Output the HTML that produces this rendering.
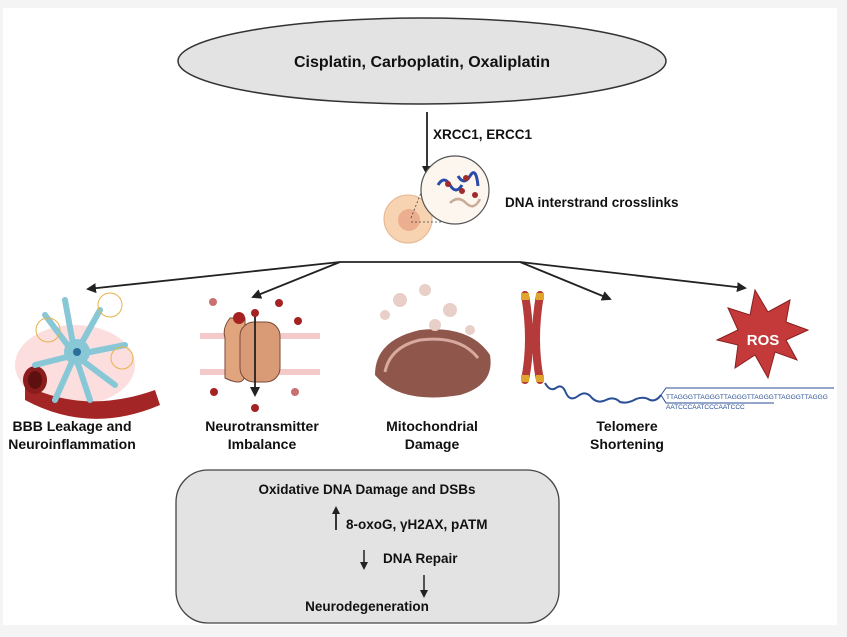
<!DOCTYPE html>
<html><head><meta charset="utf-8"><style>
html,body{margin:0;padding:0;background:#f4f4f4;}
body{width:847px;height:637px;overflow:hidden;position:relative;font-family:"Liberation Sans",Arial,sans-serif;}
svg{position:absolute;left:0;top:0}
text{font-family:"Liberation Sans",Arial,sans-serif;font-weight:bold;fill:#111}
</style></head><body>
<svg width="847" height="637" viewBox="0 0 847 637">
<defs>
<marker id="ah" markerWidth="10" markerHeight="10" refX="8" refY="5" orient="auto" markerUnits="userSpaceOnUse"><path d="M0,0 L10,5 L0,10 Z" fill="#222"/></marker>
<marker id="ahs" markerWidth="8" markerHeight="8" refX="6" refY="4" orient="auto" markerUnits="userSpaceOnUse"><path d="M0,0 L8,4 L0,8 Z" fill="#222"/></marker>
</defs>
<rect x="3" y="8" width="834" height="617" fill="#fff"/>
<ellipse cx="422" cy="61" rx="244" ry="43" fill="#e3e3e3" stroke="#333" stroke-width="1.5"/>
<text x="422" y="67" font-size="16" text-anchor="middle">Cisplatin, Carboplatin, Oxaliplatin</text>
<line x1="427" y1="112" x2="427" y2="174" stroke="#222" stroke-width="1.8" marker-end="url(#ah)"/>
<text x="433" y="139" font-size="13.5">XRCC1, ERCC1</text>
<circle cx="408" cy="219" r="24" fill="#f7d3b1" stroke="#e6b58e"/>
<circle cx="409" cy="220" r="11" fill="#ebae8e"/>
<line x1="411" y1="218" x2="430" y2="170" stroke="#444" stroke-dasharray="2,2" stroke-width="0.8"/>
<line x1="411" y1="222" x2="445" y2="222" stroke="#444" stroke-dasharray="2,2" stroke-width="0.8"/>
<circle cx="455" cy="190" r="34" fill="#fdf6ef" stroke="#555" stroke-width="1.2"/>
<path d="M438,185 q6,-10 12,0 t12,0" stroke="#2a4aa8" stroke-width="3" fill="none"/>
<path d="M458,176 q6,10 12,0 t8,10" stroke="#2a4aa8" stroke-width="3" fill="none"/>
<path d="M450,203 q8,-8 16,0 t14,-4" stroke="#c9ab98" stroke-width="2.5" fill="none"/>
<circle cx="448" cy="184" r="3" fill="#a32a2a"/><circle cx="466" cy="178" r="3" fill="#a32a2a"/><circle cx="462" cy="191" r="3" fill="#a32a2a"/><circle cx="475" cy="195" r="3" fill="#a32a2a"/>
<text x="505" y="207" font-size="13.5">DNA interstrand crosslinks</text>
<line x1="340" y1="262" x2="520" y2="262" stroke="#222" stroke-width="1.8"/>
<line x1="340" y1="262" x2="88" y2="289" stroke="#222" stroke-width="1.8" marker-end="url(#ah)"/>
<line x1="340" y1="262" x2="253" y2="297" stroke="#222" stroke-width="1.8" marker-end="url(#ah)"/>
<line x1="520" y1="262" x2="610" y2="299" stroke="#222" stroke-width="1.8" marker-end="url(#ah)"/>
<line x1="520" y1="262" x2="745" y2="288" stroke="#222" stroke-width="1.8" marker-end="url(#ah)"/>
<!-- BBB -->
<ellipse cx="75" cy="365" rx="60" ry="40" fill="#fbd0d0" opacity="0.7"/>
<path d="M25,385 q60,30 130,5 l5,15 q-70,30 -135,-5 z" fill="#a32525"/>
<ellipse cx="35" cy="380" rx="12" ry="14" fill="#8a1c1c"/>
<ellipse cx="35" cy="380" rx="7" ry="9" fill="#5e1010"/>
<path d="M75,355 l-30,-40 M75,355 l-10,-55 M75,355 l25,-45 M75,355 l50,-10 M75,355 l40,30 M75,355 l-20,45 M75,355 l15,45 M75,355 l-40,10" stroke="#88c8d6" stroke-width="6" stroke-linecap="round"/>
<circle cx="77" cy="352" r="13" fill="#88c8d6"/><circle cx="77" cy="352" r="4" fill="#2a6f9a"/>
<g stroke="#e7b34a" stroke-width="1" fill="none"><circle cx="48" cy="330" r="12"/><circle cx="110" cy="305" r="12"/><circle cx="122" cy="358" r="11"/></g>
<!-- Neurotransmitter -->
<g fill="#f3c9c9"><rect x="200" y="333" width="120" height="6"/><rect x="200" y="369" width="120" height="6"/></g>
<path d="M230,318 q-8,10 -5,20 l0,40 q20,10 20,-5 l0,-55 z" fill="#e0a57d" stroke="#7a4a3a"/>
<rect x="240" y="322" width="40" height="60" rx="14" fill="#d99a76" stroke="#7a4a3a"/>
<line x1="255" y1="312" x2="255" y2="395" stroke="#222" stroke-width="1.8" marker-end="url(#ah)"/>
<g fill="#a52222"><circle cx="239" cy="318" r="6"/><circle cx="255" cy="313" r="4"/><circle cx="279" cy="303" r="4"/><circle cx="298" cy="321" r="4"/><circle cx="214" cy="392" r="4"/><circle cx="255" cy="408" r="4"/></g>
<g fill="#c97070"><circle cx="213" cy="302" r="4"/><circle cx="295" cy="392" r="4"/></g>
<!-- Mitochondria -->
<path d="M375,375 q0,-35 45,-45 q50,-5 70,25 q5,30 -30,40 q-60,10 -85,-20 z" fill="#8f564c"/>
<path d="M385,372 q5,-25 35,-32 q40,-5 58,18" stroke="#d8a99f" stroke-width="3" fill="none"/>
<g fill="#e8cfc8"><circle cx="400" cy="300" r="7"/><circle cx="425" cy="290" r="6"/><circle cx="450" cy="310" r="7"/><circle cx="435" cy="325" r="6"/><circle cx="470" cy="330" r="5"/><circle cx="385" cy="315" r="5"/></g>
<!-- Chromosome -->
<path d="M525,295 q8,45 0,85 M540,295 q-8,45 0,85" stroke="#b53a3a" stroke-width="8" fill="none" stroke-linecap="round"/>
<g fill="#e0a52c"><rect x="521" y="293" width="8" height="7"/><rect x="536" y="293" width="8" height="7"/><rect x="521" y="375" width="8" height="7"/><rect x="536" y="375" width="8" height="7"/></g>
<path d="M545,383 Q550,392 556,388 Q562,383 566,393 Q570,402 578,396 Q586,390 592,398 Q598,404 606,400 Q614,396 620,402 Q628,404 636,399 Q644,396 650,400 Q656,402 661,395" stroke="#2a4f96" stroke-width="2" fill="none"/>
<path d="M661,395 l5,-7 l168,0 M661,395 l5,8 l108,0" stroke="#2a4f96" fill="none" stroke-width="1"/>
<text x="666" y="399" font-size="6.5" style="fill:#2a4f96;font-weight:normal">TTAGGGTTAGGGTTAGGGTTAGGGTTAGGGTTAGGG</text>
<text x="666" y="409" font-size="6.5" style="fill:#2a4f96;font-weight:normal">AATCCCAATCCCAATCCC</text>
<!-- ROS -->
<polygon points="755,290 768,312 790,300 786,322 808,330 786,340 797,360 775,352 768,378 755,355 735,368 738,345 717,340 738,330 728,308 750,315" fill="#c43a3a" stroke="#8a1f1f"/>
<text x="763" y="345" font-size="15" text-anchor="middle" style="fill:#fff">ROS</text>
<g font-size="14" text-anchor="middle">
<text x="72" y="431">BBB Leakage and</text><text x="72" y="449">Neuroinflammation</text>
<text x="262" y="431">Neurotransmitter</text><text x="262" y="449">Imbalance</text>
<text x="432" y="431">Mitochondrial</text><text x="432" y="449">Damage</text>
<text x="627" y="431">Telomere</text><text x="627" y="449">Shortening</text>
</g>
<rect x="176" y="470" width="383" height="153" rx="32" fill="#e3e3e3" stroke="#444" stroke-width="1.3"/>
<g font-size="13.5">
<text x="367" y="494" text-anchor="middle">Oxidative DNA Damage and DSBs</text>
<text x="346" y="529">8-oxoG, γH2AX, pATM</text>
<text x="383" y="563">DNA Repair</text>
<text x="367" y="611" text-anchor="middle">Neurodegeneration</text>
</g>
<line x1="336" y1="530" x2="336" y2="508" stroke="#222" stroke-width="1.8" marker-end="url(#ahs)"/>
<line x1="364" y1="550" x2="364" y2="568" stroke="#222" stroke-width="1.5" marker-end="url(#ahs)"/>
<line x1="424" y1="575" x2="424" y2="596" stroke="#222" stroke-width="1.5" marker-end="url(#ahs)"/>
</svg>
</body></html>
